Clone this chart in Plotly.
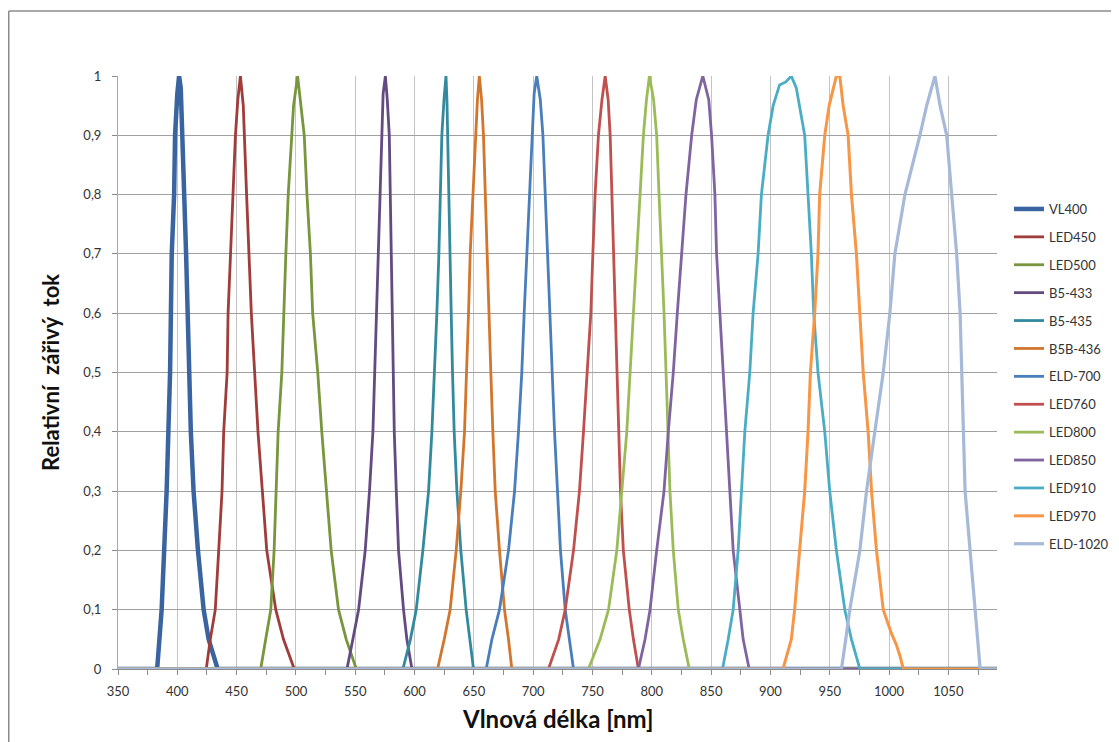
import plotly.graph_objects as go

# ---------------- data ----------------
VL400_nm = [350, 383, 386.8, 391, 393.9, 394.4, 395.3, 397.3, 398.1, 400, 401.5, 402.9, 404.6, 405.8, 407.4, 408.6, 409.4, 411.4, 413.7, 417.4, 422.2, 426.4, 434, 1091]
VL400_val = [0, 0, 0.1, 0.3, 0.5, 0.6, 0.7, 0.8, 0.9, 0.97, 1.0, 0.98, 0.9, 0.8, 0.7, 0.6, 0.5, 0.4, 0.3, 0.2, 0.1, 0.05, 0, 0]

LED450_nm = [350, 424.4, 427.8, 432, 434.9, 437.7, 439.1, 442, 442.8, 444.8, 447, 449, 451, 453.2, 455.6, 456.7, 458.4, 460.4, 462.4, 465.2, 468, 471.7, 475.4, 483, 489.5, 498.6, 1091]
LED450_val = [0, 0, 0.05, 0.1, 0.2, 0.3, 0.4, 0.5, 0.6, 0.7, 0.8, 0.9, 0.96, 1.0, 0.95, 0.9, 0.8, 0.7, 0.6, 0.5, 0.4, 0.3, 0.2, 0.1, 0.05, 0, 0]

LED500_nm = [350, 470.3, 474.5, 478.8, 481.6, 483, 485, 488.1, 489.5, 491.5, 493.5, 496.3, 498, 501.4, 504.2, 507, 509.3, 512.2, 514.1, 518.4, 521.8, 525.5, 529.7, 535.9, 542.4, 550.9, 1091]
LED500_val = [0, 0, 0.05, 0.1, 0.2, 0.3, 0.4, 0.5, 0.6, 0.7, 0.8, 0.9, 0.95, 1.0, 0.95, 0.9, 0.8, 0.7, 0.6, 0.5, 0.4, 0.3, 0.2, 0.1, 0.05, 0, 0]

B5_433_nm = [350, 543, 548, 552.8, 558.4, 562, 564.9, 566.3, 567.7, 569.1, 570.5, 571.9, 573.5, 575.4, 577, 578.7, 579.5, 580.3, 581.3, 582, 582.9, 584.6, 586.5, 590.7, 593.5, 597.8, 1091]
B5_433_val = [0, 0, 0.05, 0.1, 0.2, 0.3, 0.4, 0.5, 0.6, 0.7, 0.8, 0.9, 0.97, 1.0, 0.96, 0.9, 0.8, 0.7, 0.6, 0.5, 0.4, 0.3, 0.2, 0.1, 0.05, 0, 0]

B5_435_nm = [350, 590.2, 596.5, 601.4, 607, 611.8, 614.6, 616.9, 618.8, 620.5, 621.6, 623, 624.8, 626.5, 627.3, 628, 628.9, 630, 630.9, 632, 633.4, 635.7, 639, 643.5, 646.8, 649.7, 1091]
B5_435_val = [0, 0, 0.05, 0.1, 0.2, 0.3, 0.4, 0.5, 0.6, 0.7, 0.8, 0.9, 0.96, 1.0, 0.96, 0.9, 0.8, 0.7, 0.6, 0.5, 0.4, 0.3, 0.2, 0.1, 0.05, 0, 0]

B5B_436_nm = [350, 619.4, 625, 630, 635.1, 639, 642.1, 644.1, 645.5, 646.9, 649.2, 651.1, 653, 654.6, 656.5, 658.1, 659.5, 661, 662.4, 664.3, 666, 668, 671.6, 675.8, 679.2, 682, 1091]
B5B_436_val = [0, 0, 0.05, 0.1, 0.2, 0.3, 0.4, 0.5, 0.6, 0.7, 0.8, 0.9, 0.96, 1.0, 0.96, 0.9, 0.8, 0.7, 0.6, 0.5, 0.4, 0.3, 0.2, 0.1, 0.05, 0, 0]

ELD700_nm = [350, 660.4, 665.2, 671.6, 679.2, 684.3, 687.6, 690.4, 692.4, 694.7, 696.9, 698.9, 700.8, 703, 706, 708.2, 710.1, 712.1, 713.8, 715.7, 718, 720.5, 723, 727, 730.5, 734, 1091]
ELD700_val = [0, 0, 0.05, 0.1, 0.2, 0.3, 0.4, 0.5, 0.6, 0.7, 0.8, 0.9, 0.97, 1.0, 0.96, 0.9, 0.8, 0.7, 0.6, 0.5, 0.4, 0.3, 0.2, 0.1, 0.05, 0, 0]

LED760_nm = [350, 712.9, 721.5, 727, 734, 739, 742.4, 745.2, 748.6, 750.3, 752.2, 755, 758, 760.7, 763.2, 764.9, 766.3, 767.7, 769, 770.5, 772.4, 773.6, 776, 781, 784.5, 788.7, 1091]
LED760_val = [0, 0, 0.05, 0.1, 0.2, 0.3, 0.4, 0.5, 0.6, 0.7, 0.8, 0.9, 0.96, 1.0, 0.96, 0.9, 0.8, 0.7, 0.6, 0.5, 0.4, 0.3, 0.2, 0.1, 0.05, 0, 0]

LED800_nm = [350, 746.6, 756.4, 763.5, 770.5, 774.7, 778.9, 781.7, 784.5, 787.3, 789.5, 792.9, 795.5, 798, 801.5, 804.1, 806.1, 808.3, 810.3, 812, 813.5, 815.3, 818.1, 822.3, 826.5, 831.6, 1091]
LED800_val = [0, 0, 0.05, 0.1, 0.2, 0.3, 0.4, 0.5, 0.6, 0.7, 0.8, 0.9, 0.96, 1.0, 0.96, 0.9, 0.8, 0.7, 0.6, 0.5, 0.4, 0.3, 0.2, 0.1, 0.05, 0, 0]

LED850_nm = [350, 788.7, 794.3, 798.5, 804.1, 810.3, 813.9, 818.1, 821.5, 825.1, 828.8, 833.6, 837.5, 843, 848, 850.4, 853.2, 854.6, 857.4, 860.2, 863, 865.8, 868.6, 874.2, 877, 882.1, 1091]
LED850_val = [0, 0, 0.05, 0.1, 0.2, 0.3, 0.4, 0.5, 0.6, 0.7, 0.8, 0.9, 0.96, 1.0, 0.96, 0.9, 0.8, 0.7, 0.6, 0.5, 0.4, 0.3, 0.2, 0.1, 0.05, 0, 0]

LED910_nm = [350, 859.6, 864.4, 868.6, 872.8, 875.6, 878.4, 882.6, 885.4, 889.6, 892.4, 898, 902.3, 907.7, 913, 917.6, 921.8, 928.9, 931.7, 934.5, 936.5, 940.1, 945.8, 950, 955.6, 962.7, 968.3, 975.4, 1091]
LED910_val = [0, 0, 0.05, 0.1, 0.2, 0.3, 0.4, 0.5, 0.6, 0.7, 0.8, 0.9, 0.95, 0.985, 0.99, 1.0, 0.98, 0.9, 0.8, 0.7, 0.6, 0.5, 0.4, 0.3, 0.2, 0.1, 0.05, 0, 0]

LED970_nm = [350, 910.6, 917.6, 920.4, 924.6, 928.9, 931.7, 933.7, 937.3, 940.1, 941.5, 945.8, 949.5, 955.6, 958.5, 961.3, 965.5, 968.3, 972.5, 975.4, 978.2, 982.4, 985.2, 989.4, 995.1, 1002, 1006.3, 1009.5, 1012, 1091]
LED970_val = [0, 0, 0.05, 0.1, 0.2, 0.3, 0.4, 0.5, 0.6, 0.7, 0.8, 0.9, 0.95, 1.0, 1.0, 0.95, 0.9, 0.8, 0.7, 0.6, 0.5, 0.4, 0.3, 0.2, 0.1, 0.06, 0.04, 0.02, 0, 0]

ELD1020_nm = [350, 959.9, 963.5, 966.9, 975.4, 981, 988, 995.1, 1000.7, 1004.9, 1013.4, 1020, 1026, 1031.7, 1038.7, 1043, 1048.6, 1052.8, 1057, 1059.9, 1061.3, 1062.7, 1064.1, 1068.3, 1072.5, 1074.5, 1076.8, 1091]
ELD1020_val = [0, 0, 0.05, 0.1, 0.2, 0.3, 0.4, 0.5, 0.6, 0.7, 0.8, 0.85, 0.9, 0.95, 1.0, 0.95, 0.9, 0.8, 0.7, 0.6, 0.5, 0.4, 0.3, 0.2, 0.1, 0.05, 0, 0]

series_names = ["VL400", "LED450", "LED500", "B5-433", "B5-435", "B5B-436", "ELD-700",
                "LED760", "LED800", "LED850", "LED910", "LED970", "ELD-1020"]
series_x = [VL400_nm, LED450_nm, LED500_nm, B5_433_nm, B5_435_nm, B5B_436_nm, ELD700_nm,
            LED760_nm, LED800_nm, LED850_nm, LED910_nm, LED970_nm, ELD1020_nm]
series_y = [VL400_val, LED450_val, LED500_val, B5_433_val, B5_435_val, B5B_436_val, ELD700_val,
            LED760_val, LED800_val, LED850_val, LED910_val, LED970_val, ELD1020_val]
series_colors = ["#3A64A0", "#A03C3A", "#77963D", "#634B82", "#338A9E", "#D2762E", "#4A7EBB",
                 "#C0504D", "#9BBB59", "#8064A2", "#4BACC6", "#F79646", "#A6B9D8"]
series_widths = [4.5, 2.8, 2.8, 2.8, 2.8, 2.8, 2.8, 2.8, 2.8, 2.8, 2.8, 3.0, 3.2]

x_ticks = [350, 400, 450, 500, 550, 600, 650, 700, 750, 800, 850, 900, 950, 1000, 1050]
y_ticks = [0, 0.1, 0.2, 0.3, 0.4, 0.5, 0.6, 0.7, 0.8, 0.9, 1]
y_tick_text = ["0", "0,1", "0,2", "0,3", "0,4", "0,5", "0,6", "0,7", "0,8", "0,9", "1"]

FONT = "Lato, 'Open Sans', sans-serif"

fig = go.Figure()
for name, xs, ys, col, w in zip(series_names, series_x, series_y, series_colors, series_widths):
    fig.add_trace(go.Scatter(x=xs, y=ys, mode="lines", name=name, legendgroup=name,
                             line=dict(color=col, width=w)))

# The page body has an 8px margin: the figure is drawn at (8, 8) in the window.
OFF = 8
FW, FH = 1119 - OFF, 742 - OFF
L, T = 118 - OFF, 76 - OFF
R = FW - (997 - OFF)
B = FH - (669 - OFF)
W = FW - L - R
H = FH - T - B

def px_x(p):  # window px -> paper
    return (p - OFF - L) / W

def px_y(p):
    return (FH - B - (p - OFF)) / H

fig.update_layout(
    width=FW, height=FH,
    margin=dict(l=L, r=R, t=T, b=B, autoexpand=False),
    paper_bgcolor="white", plot_bgcolor="white",
    font=dict(family=FONT, size=13, color="#333333"),
    showlegend=True,
    legend=dict(x=px_x(1009), xanchor="left", y=px_y(194), yanchor="top",
                traceorder="grouped", tracegroupgap=8,
                font=dict(family=FONT, size=13, color="#333333"),
                bgcolor="rgba(0,0,0,0)"),
    xaxis=dict(range=[350, 1091], tickvals=x_ticks, showgrid=True,
               gridcolor="#C4C4C4", gridwidth=1.2,
               showline=True, linecolor="#8C8C8C", linewidth=1,
               ticks="outside", ticklen=5, tickcolor="#8C8C8C",
               minor=dict(dtick=25, tick0=350, ticks="outside", ticklen=5, tickcolor="#8C8C8C", showgrid=False),
               tickfont=dict(family=FONT, size=13, color="#333333"),
               ticklabelstandoff=5, zeroline=False, automargin=False),
    yaxis=dict(range=[0, 1], tickvals=y_ticks, ticktext=y_tick_text, showgrid=True,
               gridcolor="#A0A0A0", gridwidth=1,
               showline=True, linecolor="#A8A8A8", linewidth=1,
               ticks="outside", ticklen=5, tickcolor="#8C8C8C",
               tickfont=dict(family=FONT, size=13, color="#333333"),
               ticklabelstandoff=8, zeroline=False, automargin=False),
    annotations=[
        dict(text="<b>Vlnová délka [nm]</b>", xref="paper", yref="paper",
             x=px_x(558), y=px_y(718), xanchor="center", yanchor="middle", showarrow=False,
             font=dict(family=FONT, size=24, color="#111111")),
        dict(text="<b>Relativní\u00a0 zářivý\u00a0 tok</b>", xref="paper", yref="paper",
             x=px_x(50), y=px_y(373), xanchor="center", yanchor="middle", showarrow=False,
             textangle=-90, font=dict(family=FONT, size=22, color="#111111")),
    ],
    shapes=[
        dict(type="line", xref="paper", yref="paper", x0=px_x(8.75), x1=px_x(1130),
             y0=px_y(11), y1=px_y(11), line=dict(color="#8C8C8C", width=1.5)),
        dict(type="line", xref="paper", yref="paper", x0=px_x(8.75), x1=px_x(8.75),
             y0=px_y(11), y1=px_y(760), line=dict(color="#8C8C8C", width=1.5)),
    ],
)

fig.write_html("out.html")
